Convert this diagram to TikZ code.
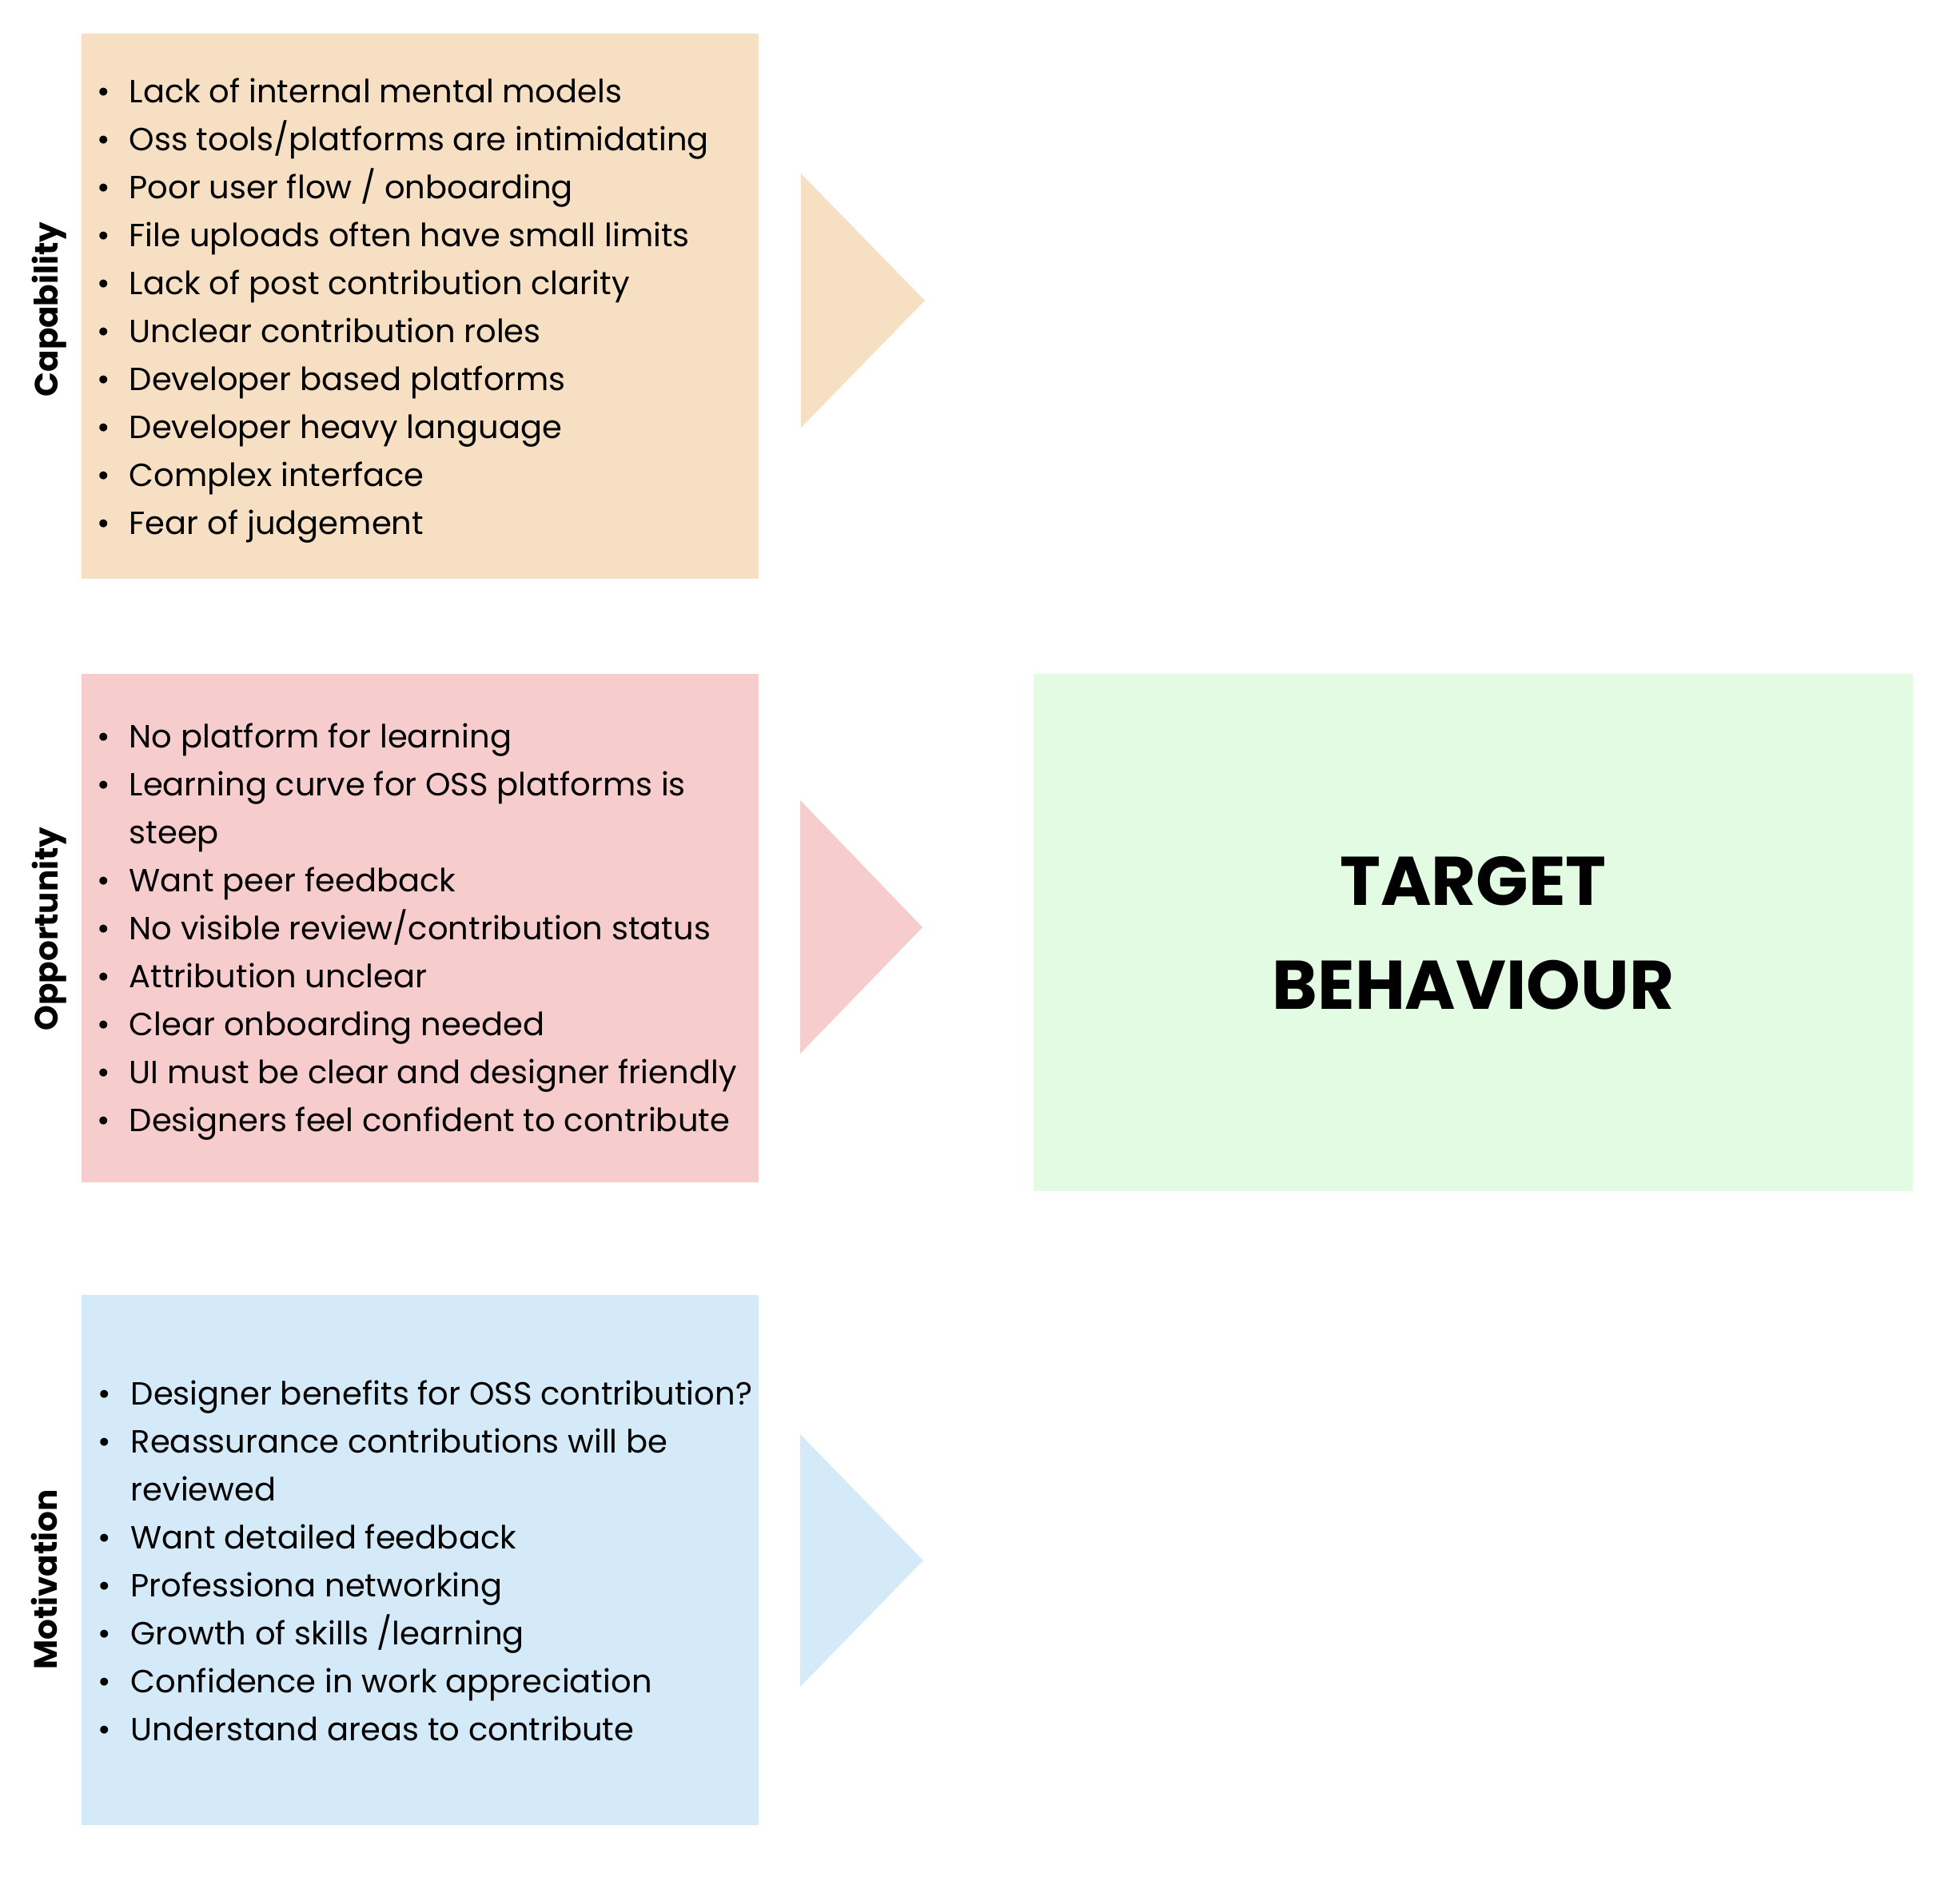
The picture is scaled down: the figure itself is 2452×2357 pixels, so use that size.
\documentclass[tikz,border=0pt]{standalone}
\usepackage{fontspec}
\setmainfont{Poppins}
\definecolor{capc}{RGB}{247,223,196}
\definecolor{oppc}{RGB}{247,204,204}
\definecolor{motc}{RGB}{213,234,248}
\definecolor{tgtc}{RGB}{227,251,226}
\begin{document}
\begin{tikzpicture}[x=0.01cm,y=-0.01cm,
  itemtext/.style={anchor=base west, inner sep=0, font=\fontsize{11.4}{13}\selectfont},
  bul/.style={anchor=base, inner sep=0, font=\fontsize{11.4}{13}\selectfont},
  sidelabel/.style={rotate=90, anchor=base, inner sep=0, font=\fontsize{11.5}{14}\selectfont\bfseries},
  tgttext/.style={anchor=base, inner sep=0, font=\fontsize{24.5}{28}\selectfont\bfseries}]
\useasboundingbox (0,0) rectangle (2452,2357);
% boxes
\fill[capc] (102,42) rectangle (949,724);
\fill[oppc] (102,843) rectangle (949,1479);
\fill[motc] (102,1620) rectangle (949,2283);
\fill[tgtc] (1293,843) rectangle (2393,1490);
% triangles
\fill[capc] (1002,217) -- (1157,376) -- (1002,535) -- cycle;
\fill[oppc] (1001,1001) -- (1154,1160) -- (1001,1318) -- cycle;
\fill[motc] (1001,1794) -- (1155,1952) -- (1001,2110) -- cycle;
% side labels
\node[sidelabel] (caplab) at (72,387) {Capability};
\node[sidelabel] (opplab) at (72,1162) {Opportunity};
\node[sidelabel] (motlab) at (71,1976) {Motivation};
% capability items
\foreach \b/\t [count=\k from 0] in {1/{Lack of internal mental models}, 1/{Oss tools/platforms are intimidating}, 1/{Poor user flow / onboarding}, 1/{File uploads often have small limits}, 1/{Lack of post contribution clarity}, 1/{Unclear contribution roles}, 1/{Developer based platforms}, 1/{Developer heavy language}, 1/{Complex interface}, 1/{Fear of judgement}}{
  \ifnum\b=1 \node[bul] (capb\k) at (130,128+60*\k) {\textbullet};\fi
  \node[itemtext] (capt\k) at (161,128+60*\k) {\t};
}
% opportunity items
\foreach \b/\t [count=\k from 0] in {1/{No platform for learning}, 1/{Learning curve for OSS platforms is}, 0/{steep}, 1/{Want peer feedback}, 1/{No visible review/contribution status}, 1/{Attribution unclear}, 1/{Clear onboarding needed}, 1/{UI must be clear and designer friendly}, 1/{Designers feel confident to contribute}}{
  \ifnum\b=1 \node[bul] (oppb\k) at (130,935+60*\k) {\textbullet};\fi
  \node[itemtext] (oppt\k) at (161,935+60*\k) {\t};
}
% motivation items
\foreach \b/\t [count=\k from 0] in {1/{Designer benefits for OSS contribution?}, 1/{Reassurance contributions will be}, 0/{reviewed}, 1/{Want detailed feedback}, 1/{Professiona networking}, 1/{Growth of skills /learning}, 1/{Confidence in work appreciation}, 1/{Understand areas to contribute}}{
  \ifnum\b=1 \node[bul] (motb\k) at (131,1757+60*\k) {\textbullet};\fi
  \node[itemtext] (mott\k) at (163,1757+60*\k) {\t};
}
% target
\node[tgttext] (tgt1) at (1843,1132) {TARGET};
\node[tgttext] (tgt2) at (1843,1262) {BEHAVIOUR};
\end{tikzpicture}
\end{document}
